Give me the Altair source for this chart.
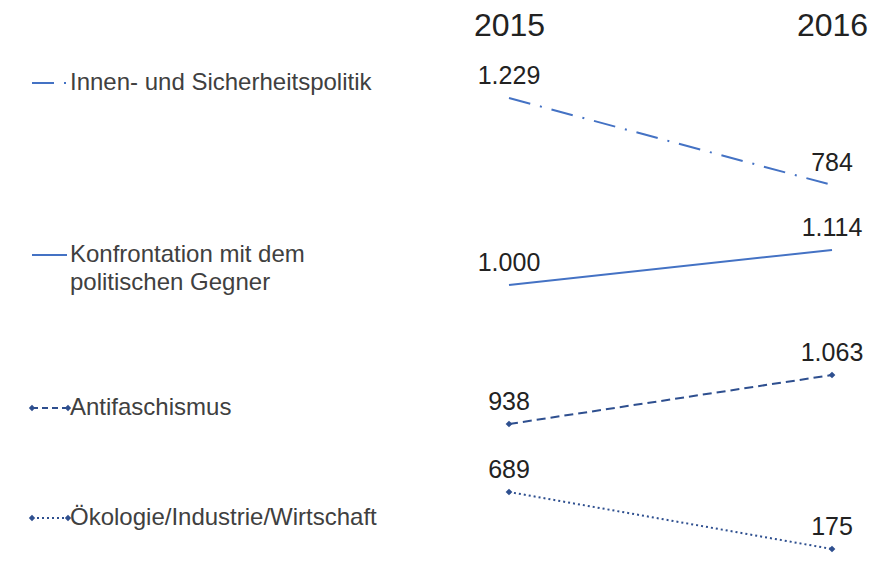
import altair as alt
import pandas as pd

# ---------------- data ----------------
series = [
    "Innen- und Sicherheitspolitik",
    "Konfrontation mit dem politischen Gegner",
    "Antifaschismus",
    "Ökologie/Industrie/Wirtschaft",
]
legend_labels = [
    "Innen- und Sicherheitspolitik",
    "Konfrontation mit dem\npolitischen Gegner",
    "Antifaschismus",
    "Ökologie/Industrie/Wirtschaft",
]
years = [2015, 2016]
values_2015 = [1229, 1000, 938, 689]
values_2016 = [784, 1114, 1063, 175]

# ---------------- layout / style ----------------
# pixel rows (inside plot area) where each series' 2015 / 2016 ends sit
band_px = [(52, 139), (239, 204), (378, 329), (446, 503)]
legend_text_y = [37, 209, 362, 472]
legend_sym_y = [37, 209, 362, 472]
colors = ["#4472C4", "#4472C4", "#2E4F8F", "#2E4F8F"]
dashes = [[22, 10, 2, 10], None, [9, 5], [2, 3]]
legend_dashes = [[22, 10, 2, 10], None, [6, 4], [2, 3]]
markers = [False, False, True, True]
FONT = "Liberation Sans"

rows = []
for s, a, b in zip(series, values_2015, values_2016):
    rows.append({"series": s, "year": years[0], "value": a})
    rows.append({"series": s, "year": years[1], "value": b})
df = pd.DataFrame(rows)
leg_df = pd.DataFrame({"series": series, "legend": legend_labels})

x = alt.X(
    "year:Q",
    scale=alt.Scale(domain=years, range=[501, 824]),
    axis=alt.Axis(
        orient="top", values=years, format="d", title=None, ticks=False,
        domain=False, grid=False, labelFontSize=32, labelFont=FONT,
        labelColor="#222222", labelPadding=4, labelFlush=False,
        labelOverlap=False, labelBound=False,
    ),
)

layers = []
for i, s in enumerate(series):
    base = alt.Chart(df).transform_filter(alt.datum.series == s).transform_calculate(
        label="replace(format(datum.value, ','), ',', '.')"
    )
    pts = sorted([(values_2015[i], band_px[i][0]), (values_2016[i], band_px[i][1])])
    y = alt.Y(
        "value:Q",
        scale=alt.Scale(domain=[pts[0][0], pts[1][0]], range=[pts[0][1], pts[1][1]],
                        zero=False, nice=False),
        axis=None,
    )
    line_kw = dict(color=colors[i], strokeWidth=2)
    if dashes[i]:
        line_kw["strokeDash"] = dashes[i]
    parts = [base.mark_line(**line_kw).encode(x=x, y=y)]
    if markers[i]:
        parts.append(
            base.mark_point(shape="diamond", filled=True, size=45, color=colors[i], opacity=1)
            .encode(x=x, y=y)
        )
    parts.append(
        base.mark_text(font=FONT, fontSize=25, color="#222222", dy=-22, baseline="middle")
        .encode(x=x, y=y, text="label:N")
    )
    layers.append(alt.layer(*parts))

legend_layers = []
for i, s in enumerate(series):
    lb = alt.Chart(leg_df).transform_filter(alt.datum.series == s)
    rule_kw = dict(color=colors[i], strokeWidth=2)
    if legend_dashes[i]:
        rule_kw["strokeDash"] = legend_dashes[i]
    legend_layers.append(
        lb.mark_rule(**rule_kw).encode(
            x=alt.value(24), x2=alt.value(59), y=alt.value(legend_sym_y[i])
        )
    )
    if markers[i]:
        for px in (24, 60):
            legend_layers.append(
                lb.mark_point(shape="diamond", filled=True, size=40, color=colors[i], opacity=1)
                .encode(x=alt.value(px), y=alt.value(legend_sym_y[i]))
            )
    legend_layers.append(
        lb.mark_text(align="left", baseline="middle", font=FONT, fontSize=24,
                     color="#404040", lineBreak="\n", lineHeight=28)
        .encode(x=alt.value(62), y=alt.value(legend_text_y[i]), text="legend:N")
    )

chart = (
    alt.layer(*layers, *legend_layers)
    .resolve_scale(y="independent")
    .properties(
        width=864,
        height=500,
        padding={"left": 0, "top": 38, "right": 0, "bottom": 7},
        autosize=alt.AutoSizeParams(type="none"),
        background="white",
    )
    .configure_view(stroke=None)
)

chart.save("out.html", embed_options={"renderer": "svg", "actions": False})
